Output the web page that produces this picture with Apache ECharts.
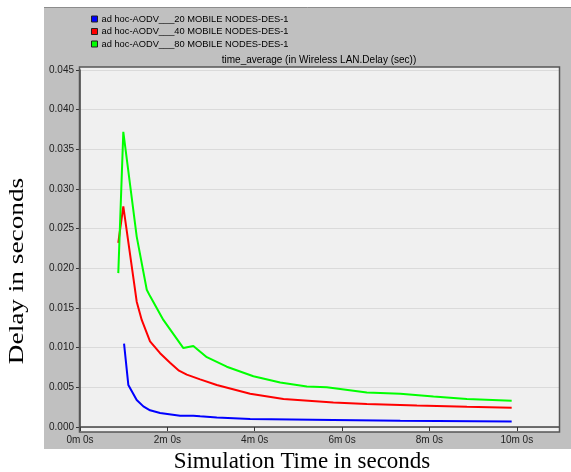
<!DOCTYPE html>
<html>
<head>
<meta charset="utf-8">
<script src="https://cdn.jsdelivr.net/npm/echarts@6/dist/echarts.min.js"></script>
<style>
  html, body { margin: 0; padding: 0; background: #fff; }
  #chart { width: 571px; height: 472px; }
</style>
</head>
<body>
<div id="chart"></div>
<script>
// time in seconds, delay in seconds
const seriesNames = [
  'ad hoc-AODV___20 MOBILE NODES-DES-1',
  'ad hoc-AODV___40 MOBILE NODES-DES-1',
  'ad hoc-AODV___80 MOBILE NODES-DES-1',
];
const seriesColors = ['#0000ff', '#ff0000', '#00ff00'];

const nodes20 = [
  [60.5, 0.0105], [66.4, 0.0053], [77.9, 0.0034], [87, 0.0026], [96.2, 0.0021],
  [110, 0.00176], [137.5, 0.00142], [155.7, 0.00142], [165, 0.00134], [187.9, 0.00121],
  [233.7, 0.00101], [348, 0.00088], [440, 0.00079], [593, 0.0007],
];
const nodes40 = [
  [52.6, 0.0232], [59.5, 0.0278], [77.9, 0.0158], [84.8, 0.0135], [96.2, 0.0108],
  [110, 0.0093], [123.7, 0.0081], [136, 0.0071], [146.7, 0.0066], [165, 0.006], [187.9, 0.0053],
  [233.7, 0.0042], [279.5, 0.00353], [348, 0.0031], [394, 0.0029], [462.8, 0.00272],
  [531.5, 0.00256], [593, 0.00243],
];
const nodes80 = [
  [52.6, 0.0194], [59.5, 0.0372], [77.9, 0.024], [91.7, 0.0173], [96.2, 0.0165],
  [114.5, 0.0135], [142, 0.00995], [155.7, 0.0102], [174.2, 0.0088], [201.6, 0.0076],
  [238.2, 0.0064], [275, 0.0056], [311.6, 0.0051], [339, 0.005], [394, 0.00436],
  [440, 0.0042], [485.6, 0.00385], [531.5, 0.00353], [593, 0.00331],
];
const xTicks = [0, 120, 240, 360, 480, 600];

const sans = '"Liberation Sans", Arial, sans-serif';
const serif = '"Liberation Serif", "Times New Roman", serif';

const chart = echarts.init(document.getElementById('chart'));

chart.setOption({
  animation: false,
  backgroundColor: '#fff',
  title: {
    text: 'time_average (in Wireless LAN.Delay (sec))',
    left: 319,
    top: 55,
    padding: 0,
    textAlign: 'center',
    textStyle: { fontFamily: sans, fontSize: 10, fontWeight: 'normal', color: '#000' },
  },
  legend: {
    orient: 'vertical',
    left: 91,
    top: 14,
    padding: 0,
    itemWidth: 6,
    itemHeight: 6,
    itemGap: 2.5,
    icon: 'rect',
    itemStyle: { borderColor: '#222', borderWidth: 1 },
    textStyle: { fontFamily: sans, fontSize: 9.3, color: '#000', lineHeight: 10, padding: [0, 0, 0, -1] },
    data: seriesNames,
  },
  grid: { left: 80, right: 12, top: 70, bottom: 45 },
  xAxis: {
    type: 'value',
    min: 0,
    max: 658,
    offset: 5,
    axisLine: { show: true, lineStyle: { color: '#444', width: 1.5 } },
    axisTick: { show: true, length: 4, customValues: xTicks, lineStyle: { color: '#333' } },
    axisLabel: {
      customValues: xTicks,
      margin: 3,
      fontFamily: sans,
      fontSize: 10,
      color: '#222',
      formatter: (v) => `${v / 60}m 0s`,
    },
    splitLine: { show: false },
  },
  yAxis: {
    type: 'value',
    min: 0,
    max: 0.045,
    interval: 0.005,
    axisLine: { show: true, lineStyle: { color: '#444', width: 1.5 } },
    axisTick: { show: true, length: 4, lineStyle: { color: '#333' } },
    axisLabel: {
      margin: 6,
      fontFamily: sans,
      fontSize: 10,
      color: '#222',
      formatter: (v) => v.toFixed(3),
    },
    splitLine: { show: true, lineStyle: { color: '#dadada', width: 1 } },
  },
  graphic: [
    // grey panel
    { type: 'rect', z: -10, shape: { x: 44, y: 7, width: 527, height: 442 }, style: { fill: '#c0c0c0' } },
    { type: 'line', z: -9, shape: { x1: 44, y1: 7.5, x2: 571, y2: 7.5 }, style: { stroke: '#8c8c8c', lineWidth: 1 } },
    // plot background + frame
    { type: 'rect', z: -8, shape: { x: 80, y: 67, width: 479, height: 365 }, style: { fill: '#f0f0f0' } },
    {
      type: 'rect', z: 10,
      shape: { x: 79.5, y: 67, width: 480, height: 365 },
      style: { fill: null, stroke: '#555', lineWidth: 1.5 },
    },
    {
      type: 'text', z: 10, x: 17, y: 271, rotation: Math.PI / 2, scaleX: 1.24,
      style: { text: 'Delay in seconds', font: `22px ${serif}`, fill: '#000', textAlign: 'center', textVerticalAlign: 'middle' },
    },
    {
      type: 'text', z: 10, x: 302, y: 462,
      style: { text: 'Simulation Time in seconds', font: `23px ${serif}`, fill: '#000', textAlign: 'center', textVerticalAlign: 'middle' },
    },
  ],
  series: [nodes20, nodes40, nodes80].map((data, i) => ({
    name: seriesNames[i],
    type: 'line',
    data,
    showSymbol: false,
    color: seriesColors[i],
    lineStyle: { width: 2, color: seriesColors[i] },
  })),
});
</script>
</body>
</html>
